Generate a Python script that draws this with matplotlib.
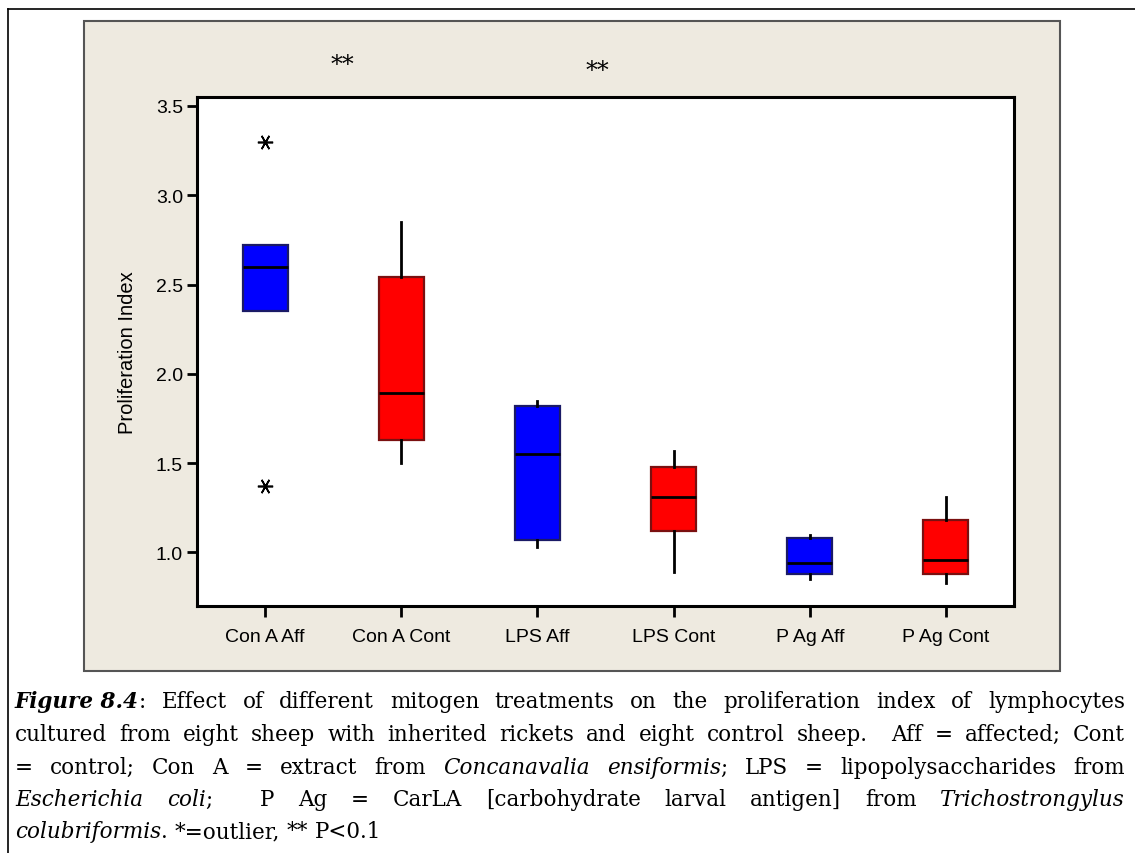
import matplotlib
matplotlib.use("Agg")
import matplotlib.pyplot as plt
from matplotlib.patches import Rectangle
from matplotlib.lines import Line2D

# ---- data -------------------------------------------------------------
groups = ["Con A Aff", "Con A Cont", "LPS Aff", "LPS Cont", "P Ag Aff", "P Ag Cont"]
whisker_low = [2.35, 1.50, 1.03, 0.89, 0.85, 0.83]
q1 = [2.35, 1.63, 1.07, 1.12, 0.88, 0.88]
median = [2.60, 1.89, 1.55, 1.31, 0.94, 0.96]
q3 = [2.72, 2.54, 1.82, 1.48, 1.08, 1.18]
whisker_high = [2.72, 2.85, 1.85, 1.57, 1.10, 1.31]
outliers = [[3.30, 1.37], [], [], [], [], []]
fill_colors = ["#0000FF", "#FF0000", "#0000FF", "#FF0000", "#0000FF", "#FF0000"]
edge_colors = ["#1a1a66", "#7a1010", "#1a1a66", "#7a1010", "#1a1a66", "#7a1010"]
signif_x = [1.57, 3.44]
signif_y = [3.73, 3.70]
yticks = [1.0, 1.5, 2.0, 2.5, 3.0, 3.5]

W, H = 1135, 854
fig = plt.figure(figsize=(W / 100, H / 100), dpi=100)
fig.patch.set_facecolor("white")


def fx(px):
    return px / W


def fy(py):
    return 1 - py / H


# page frame lines
fig.add_artist(Line2D([fx(8), fx(8)], [fy(10), 0], color="black", lw=1.2))
fig.add_artist(Line2D([fx(8), 1], [fy(10), fy(10)], color="black", lw=1.2))

# beige chart panel with darker rim
fig.add_artist(Rectangle((fx(84), fy(672)), fx(1060) - fx(84), fy(22) - fy(672),
                         facecolor="#EEEAE0", edgecolor="#555555", lw=1.5,
                         transform=fig.transFigure, zorder=0))

ax = fig.add_axes([fx(197), fy(607), fx(1014) - fx(197), fy(98) - fy(607)])
ax.set_facecolor("white")

stats = []
for i, g in enumerate(groups):
    stats.append(dict(label=g, whislo=whisker_low[i], q1=q1[i], med=median[i],
                      q3=q3[i], whishi=whisker_high[i], fliers=outliers[i]))

bp = ax.bxp(stats, positions=range(1, len(groups) + 1), widths=0.33,
            patch_artist=True, showcaps=False,
            whiskerprops=dict(color="black", lw=2.0),
            medianprops=dict(color="black", lw=2.0),
            flierprops=dict(marker=(6, 2, 90), markersize=11,
                            markeredgecolor="black", markeredgewidth=1.2,
                            linestyle="none"))
for patch, fc, ec in zip(bp["boxes"], fill_colors, edge_colors):
    patch.set_facecolor(fc)
    patch.set_edgecolor(ec)
    patch.set_linewidth(1.6)

ax.set_xlim(0.5, 6.5)
ax.set_ylim(0.70, 3.55)
ax.set_yticks(yticks)
ax.set_yticklabels([f"{v:.1f}" for v in yticks])

tick_font = ["Liberation Sans Narrow", "Liberation Sans", "DejaVu Sans"]
for s in ax.spines.values():
    s.set_linewidth(2.2)
ax.tick_params(axis="both", direction="out", length=7, width=2, colors="black",
               labelsize=14, pad=3)
ax.tick_params(axis="x", length=8, pad=8)
for lab in ax.get_xticklabels() + ax.get_yticklabels():
    lab.set_family(tick_font)
ax.set_ylabel("Proliferation Index", fontsize=14.5, family=tick_font, labelpad=14)

for sx, sy in zip(signif_x, signif_y):
    ax.text(sx, sy, "**", ha="center", va="center", fontsize=17,
            family="DejaVu Serif", clip_on=False)

# ---- justified caption ------------------------------------------------
serif = "DejaVu Serif"
styles = {"r": dict(style="normal", weight="normal"),
          "i": dict(style="italic", weight="normal"),
          "bi": dict(style="italic", weight="bold")}

caption_lines = [
    [[("Figure 8.4", "bi"), (":", "r")], "Effect", "of", "different", "mitogen", "treatments",
     "on", "the", "proliferation", "index", "of", "lymphocytes"],
    ["cultured", "from", "eight", "sheep", "with", "inherited", "rickets", "and", "eight",
     "control", "sheep.", "", "Aff", "=", "affected;", "Cont"],
    ["=", "control;", "Con", "A", "=", "extract", "from", [("Concanavalia", "i")],
     [("ensiformis", "i"), (";", "r")], "LPS", "=", "lipopolysaccharides", "from"],
    [[("Escherichia", "i")], [("coli", "i"), (";", "r")], "", "P", "Ag", "=", "CarLA",
     "[carbohydrate", "larval", "antigen]", "from", [("Trichostrongylus", "i")]],
    [[("colubriformis", "i"), (".", "r")], "*=outlier,", "**", "P<0.1"],
]
justify = [True, True, True, True, False]
line_y = [708, 741, 774, 806, 838]
x_left, x_right = 15, 1125
fsize = 15.5

fig.canvas.draw()
renderer = fig.canvas.get_renderer()

space_t = fig.text(0, 0, "a a", fontsize=fsize, family=serif)
aa_t = fig.text(0, 0, "aa", fontsize=fsize, family=serif)
space_w = (space_t.get_window_extent(renderer).width
           - aa_t.get_window_extent(renderer).width)
space_t.remove()
aa_t.remove()

for words, just, yy in zip(caption_lines, justify, line_y):
    word_artists = []
    word_widths = []
    for w in words:
        runs = [(w, "r")] if isinstance(w, str) else w
        arts = []
        tot = 0
        for txt, st in runs:
            if txt == "":
                continue
            t = fig.text(0, fy(yy), txt, fontsize=fsize, family=serif,
                         va="baseline", ha="left", **styles[st])
            bw = t.get_window_extent(renderer).width
            arts.append((t, tot))
            tot += bw
        word_artists.append(arts)
        word_widths.append(tot)
    n_gaps = len(words) - 1
    if just and n_gaps > 0:
        gap = (x_right - x_left - sum(word_widths)) / n_gaps
    else:
        gap = space_w
    x = x_left
    for arts, ww in zip(word_artists, word_widths):
        for t, off in arts:
            t.set_x(fx(x + off))
        x += ww + gap

fig.savefig("out.png", dpi=100)
